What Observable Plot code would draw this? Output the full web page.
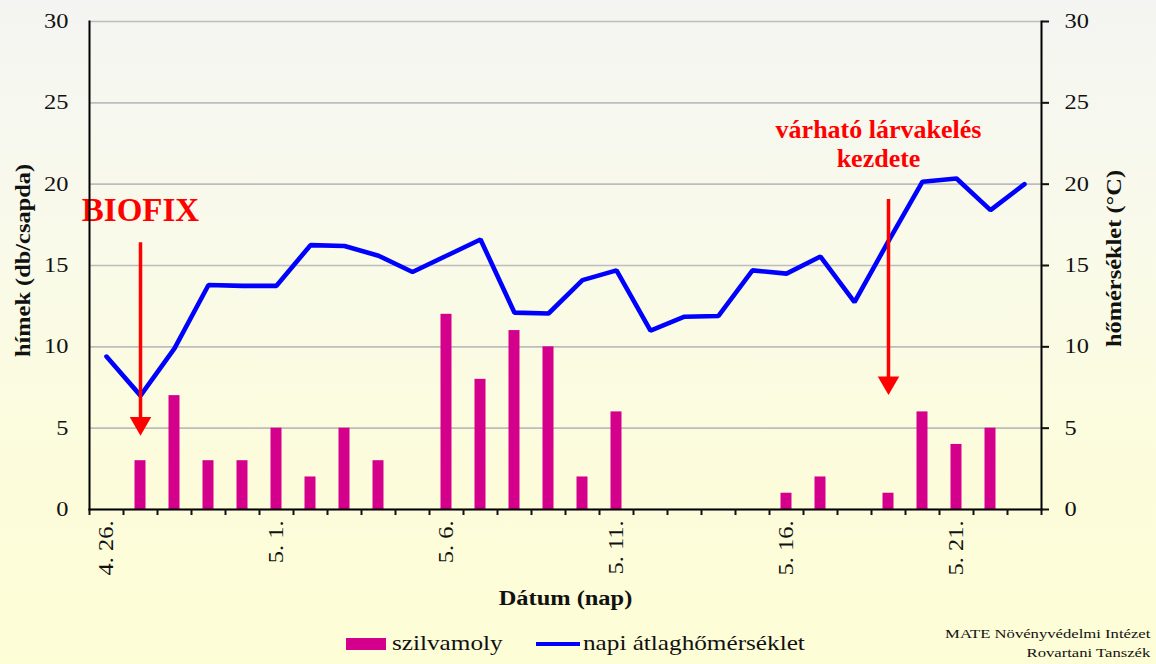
<!DOCTYPE html>
<html>
<head>
<meta charset="utf-8">
<script src="https://cdn.jsdelivr.net/npm/d3@7"></script>
<script src="https://cdn.jsdelivr.net/npm/@observablehq/plot@0.6"></script>
<style>
  html, body { margin: 0; padding: 0; }
  #page {
    position: relative; width: 1156px; height: 664px; overflow: hidden;
    background: linear-gradient(to bottom, #f4f5f2 0%, #f9faea 35%, #fcfcdc 70%, #fdfdd6 100%);
    font-family: "Liberation Serif", "Times New Roman", serif; color: #111;
  }
  #chart { position: absolute; left: 0; top: 0; }
  .lg { position: absolute; white-space: nowrap; }
  .lg-text { font-size: 21px; line-height: 1; transform: scaleX(1.2); transform-origin: left center; }
  .sw-bar { left: 346px; top: 638px; width: 40px; height: 12px; background: #d4008c; }
  .sw-line { left: 536px; top: 642px; width: 44px; height: 4px; background: #0000ff; }
  #caption { position: absolute; right: 6px; top: 624px; font-size: 13px; text-align: right; line-height: 19px;
    transform: scaleX(1.28); transform-origin: right center; }
</style>
</head>
<body>
<div id="page">
  <div id="chart"></div>
  <div class="lg sw-bar"></div>
  <div class="lg lg-text" style="left:392px; top:633px;">szilvamoly</div>
  <div class="lg sw-line"></div>
  <div class="lg lg-text" style="left:583px; top:633px;">napi átlaghőmérséklet</div>
  <div id="caption">MATE Növényvédelmi Intézet<br>Rovartani Tanszék</div>
</div>
<script>
// ---- data ----
const dates = ["4. 26.","4. 27.","4. 28.","4. 29.","4. 30.",
  "5. 1.","5. 2.","5. 3.","5. 4.","5. 5.","5. 6.","5. 7.","5. 8.","5. 9.","5. 10.",
  "5. 11.","5. 12.","5. 13.","5. 14.","5. 15.","5. 16.","5. 17.","5. 18.","5. 19.","5. 20.",
  "5. 21.","5. 22.","5. 23."];
const moths = [0,3,7,3,3,5,2,5,3,0,12,8,11,10,2,6,0,0,0,0,1,2,0,1,6,4,5,0];
const temps = [9.4,7.0,9.9,13.8,13.75,13.75,16.25,16.2,15.6,14.6,15.6,16.6,12.1,12.05,14.1,
  14.7,11.0,11.85,11.9,14.7,14.5,15.55,12.75,16.5,20.15,20.35,18.4,20.0];
const labelDates = ["4. 26.","5. 1.","5. 6.","5. 11.","5. 16.","5. 21."];
const yTicks = [0,5,10,15,20,25,30];
const arrowDates = ["4. 27.","5. 19."];
const arrowFrom = [16.4, 19.05];
const arrowTo = [5.3, 7.8];
const biofixNote = {text: "BIOFIX", date: "4. 27.", value: 18.4};
const larvaNote = {text: "várható lárvakelés\nkezdete", date: "5. 19.", value: 22.5};
const yLabelLeft = "hímek (db/csapda)";
const yLabelRight = "hőmérséklet (°C)";
const xLabel = "Dátum (nap)";

// ---- build ----
const rows = dates.map((d, i) => ({date: d, moth: moths[i], temp: temps[i]}));
const arrows = arrowDates.map((d, i) => ({date: d, from: arrowFrom[i], to: arrowTo[i]}));

const W = 1156, H = 618, ML = 89, MR = 115, MT = 21, MB = 109;
const bw = (W - ML - MR) / dates.length;
const font = "Liberation Serif";

const chart = Plot.plot({
  width: W, height: H,
  marginLeft: ML, marginRight: MR, marginTop: MT, marginBottom: MB,
  style: {background: "transparent", fontFamily: font, color: "#111", overflow: "visible"},
  x: {type: "band", domain: dates, padding: 0},
  y: {domain: [0, 30]},
  marks: [
    Plot.gridY(yTicks, {stroke: "#bdbdbd", strokeOpacity: 1, strokeWidth: 1.6}),
    Plot.barY(rows, {x: "date", y: "moth", fill: "#d4008c", insetLeft: 11.5, insetRight: 11.5}),
    Plot.line(rows, {x: "date", y: "temp", stroke: "#0000ff", strokeWidth: 4.6, strokeLinejoin: "miter"}),
    Plot.ruleX(arrows, {x: "date", y1: "from", y2: "to", stroke: "#ff0000", strokeWidth: 3.5}),
    Plot.dot(arrows, {x: "date", y: "to", symbol: "triangle", r: 8, rotate: 180, fill: "#ff0000", stroke: null}),
    Plot.text([biofixNote], {x: "date", y: "value", text: "text", fill: "#ff0000", fontWeight: "bold",
      fontSize: 33, fontFamily: font}),
    Plot.text([larvaNote], {x: "date", y: "value", text: "text", fill: "#ff0000", fontWeight: "bold",
      fontSize: 26, lineHeight: 1.12, dx: -10, fontFamily: font}),
    Plot.frame({anchor: "left", stroke: "#000", strokeWidth: 2}),
    Plot.frame({anchor: "right", stroke: "#000", strokeWidth: 2}),
    Plot.frame({anchor: "bottom", stroke: "#000", strokeWidth: 2}),
    Plot.axisY(yTicks, {anchor: "left", tickSize: 0, tickPadding: 21, fontSize: 20, label: null}),
    Plot.axisY(yTicks, {anchor: "right", tickSize: 7, tickPadding: 16, fontSize: 20, strokeWidth: 2, label: null}),
    Plot.axisX(dates, {anchor: "bottom", tickSize: 6, strokeWidth: 2, tickFormat: () => "", dx: -bw / 2, label: null}),
    Plot.axisX([dates[dates.length - 1]], {anchor: "bottom", tickSize: 6, strokeWidth: 2, tickFormat: () => "", dx: bw / 2, label: null}),
    Plot.axisX(labelDates, {anchor: "bottom", tickSize: 0, tickRotate: -90, tickPadding: 11, fontSize: 20, label: null}),
    // axis titles
    Plot.text([yLabelLeft], {frameAnchor: "left", text: d => d, rotate: -90, textAnchor: "middle", dx: -66, dy: -5,
      fontSize: 20, fontWeight: "bold", fill: "#111", fontFamily: font}),
    Plot.text([yLabelRight], {frameAnchor: "right", text: d => d, rotate: -90, textAnchor: "middle", dx: 73, dy: -7,
      fontSize: 20, fontWeight: "bold", fill: "#111", fontFamily: font}),
    Plot.text([xLabel], {frameAnchor: "bottom", text: d => d, textAnchor: "middle", dy: 95,
      fontSize: 20, fontWeight: "bold", fill: "#111", fontFamily: font})
  ]
});
document.getElementById("chart").appendChild(chart);

// the source chart's lettering is horizontally wide: stretch the black texts along their baseline
chart.querySelectorAll("text").forEach(t => {
  const fill = t.getAttribute("fill") || (t.parentNode && t.parentNode.getAttribute && t.parentNode.getAttribute("fill"));
  if (fill === "#ff0000") return;
  if (t.querySelector("tspan")) return;
  const L = t.getComputedTextLength();
  if (L > 0) {
    t.setAttribute("textLength", (L * 1.22).toFixed(1));
    t.setAttribute("lengthAdjust", "spacingAndGlyphs");
  }
});
</script>
</body>
</html>
